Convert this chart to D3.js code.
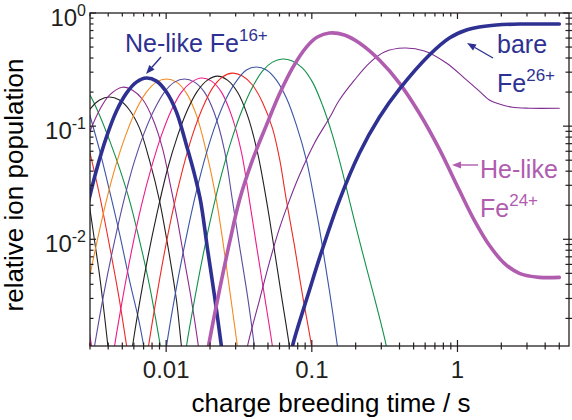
<!DOCTYPE html>
<html>
<head>
<meta charset="utf-8">
<script src="https://cdn.jsdelivr.net/npm/d3@7"></script>
<style>
  body { margin: 0; background: #fff; }
  svg text { font-family: "Liberation Sans", Arial, sans-serif; }
</style>
</head>
<body>
<div id="chart"></div>
<script>
// Fe charge state populations vs breeding time [t (s), relative population]
const fe09 = [[0.00275,0.0028],[0.00297,0.0015],[0.00322,0.0008]];
const fe10 = [[0.00275,0.0368],[0.00297,0.0200],[0.00322,0.0098],[0.00349,0.0048],[0.00377,0.00213],[0.00408,0.00085]];
const fe11 = [[0.00275,0.0922],[0.00297,0.0613],[0.00349,0.0245],[0.00408,0.00885],[0.00478,0.00289],[0.0056,0.00077]];
const fe12 = [[0.00275,0.19],[0.00297,0.130],[0.00349,0.0613],[0.00408,0.0271],[0.00478,0.0113],[0.0056,0.00434],[0.00656,0.0018],[0.0071,0.00104]];
const fe13 = [[0.00275,0.217],[0.00297,0.192],[0.00349,0.125],[0.00408,0.0752],[0.00478,0.0425],[0.0056,0.0221],[0.00656,0.0098],[0.00768,0.00392],[0.00914,0.00113],[0.00973,0.00069]];
const fe14 = [[0.00275,0.113],[0.00297,0.139],[0.00349,0.170],[0.00408,0.181],[0.00478,0.170],[0.0056,0.139],[0.00656,0.096],[0.00768,0.0500],[0.00899,0.0221],[0.01053,0.00722],[0.01177,0.00289],[0.01274,0.00113],[0.01335,0.00069]];
const fe15 = [[0.00275,0.0639],[0.00297,0.0867],[0.00349,0.139],[0.00408,0.188],[0.00501,0.221],[0.00588,0.208],[0.00688,0.173],[0.00805,0.118],[0.00943,0.0639],[0.0107,0.0300],[0.01196,0.0147],[0.01335,0.00652],[0.01492,0.00289],[0.01666,0.00113],[0.01747,0.00069]];
const fe16 = [[0.00275,0.0147],[0.00297,0.0231],[0.00332,0.0408],[0.00389,0.0799],[0.00456,0.136],[0.00534,0.196],[0.00625,0.245],[0.00732,0.266],[0.00858,0.250],[0.01005,0.200],[0.01177,0.133],[0.01378,0.0679],[0.01539,0.0408],[0.0172,0.0221],[0.0192,0.0083],[0.02145,0.00319],[0.02396,0.00113],[0.02512,0.00069]];
const fe17 = [[0.00275,0.00261],[0.00297,0.00452],[0.00332,0.00903],[0.00389,0.0221],[0.00456,0.0471],[0.00534,0.0867],[0.00625,0.141],[0.00732,0.200],[0.00858,0.245],[0.01005,0.261],[0.01177,0.245],[0.01378,0.196],[0.01614,0.125],[0.0189,0.0589],[0.02214,0.0221],[0.02473,0.00885],[0.02762,0.00319],[0.03085,0.00113],[0.03236,0.00069]];
const fe18 = [[0.00307,0.00077],[0.00322,0.00113],[0.00377,0.00354],[0.00442,0.0096],[0.00517,0.0231],[0.00606,0.0490],[0.0071,0.0885],[0.00831,0.141],[0.00973,0.200],[0.0114,0.245],[0.01335,0.261],[0.01564,0.245],[0.01831,0.200],[0.02145,0.130],[0.02512,0.0613],[0.02851,0.0221],[0.03184,0.00885],[0.03612,0.00319],[0.04036,0.00113],[0.04232,0.00069]];
const fe19 = [[0.00421,0.00069],[0.00442,0.00113],[0.00493,0.00261],[0.00578,0.00783],[0.00677,0.0200],[0.00793,0.0434],[0.00929,0.0833],[0.01088,0.139],[0.01274,0.200],[0.01492,0.245],[0.01747,0.266],[0.02047,0.250],[0.02396,0.200],[0.02806,0.125],[0.03287,0.0589],[0.03729,0.0221],[0.04166,0.00885],[0.04727,0.00319],[0.05365,0.00113],[0.05625,0.00069]];
const fe20 = [[0.0056,0.00077],[0.00587,0.00113],[0.00635,0.00213],[0.00744,0.00665],[0.00872,0.0177],[0.01021,0.0416],[0.01196,0.0816],[0.014,0.139],[0.0164,0.204],[0.0192,0.255],[0.02249,0.277],[0.02634,0.255],[0.03085,0.200],[0.03612,0.125],[0.04232,0.0589],[0.04881,0.0221],[0.05537,0.00799],[0.06182,0.00319],[0.07019,0.00113],[0.07358,0.00069]];
const fe21 = [[0.00721,0.00077],[0.00756,0.00113],[0.00805,0.00188],[0.00943,0.00613],[0.01105,0.0173],[0.01294,0.0408],[0.01515,0.0833],[0.01774,0.144],[0.02079,0.217],[0.02434,0.272],[0.02851,0.294],[0.03339,0.277],[0.03911,0.231],[0.04581,0.163],[0.05365,0.096],[0.05993,0.0521],[0.06692,0.0221],[0.07596,0.00885],[0.08638,0.00319],[0.09959,0.00113],[0.1042,0.00069]];
const fe22 = [[0.00958,0.00069],[0.01005,0.00113],[0.01177,0.00376],[0.01378,0.01063],[0.01614,0.0266],[0.0189,0.0577],[0.02214,0.1085],[0.02593,0.177],[0.03036,0.250],[0.03556,0.313],[0.04166,0.333],[0.04881,0.313],[0.05715,0.255],[0.06692,0.177],[0.07838,0.102],[0.09182,0.0500],[0.1042,0.0221],[0.1164,0.0098],[0.132,0.00354],[0.15,0.00113],[0.1571,0.00069]];
const fe23 = [[0.01314,0.00069],[0.01378,0.00113],[0.01515,0.00231],[0.01774,0.00679],[0.02079,0.0177],[0.02434,0.040],[0.02851,0.0799],[0.03339,0.141],[0.03911,0.221],[0.04581,0.307],[0.05365,0.368],[0.06283,0.392],[0.07358,0.376],[0.08638,0.326],[0.1011,0.245],[0.1184,0.153],[0.1386,0.0833],[0.1624,0.0392],[0.1811,0.0221],[0.2121,0.0098],[0.2369,0.00565],[0.2775,0.00261],[0.3251,0.00113],[0.3463,0.00069]];
const fe24 = [[0.01831,0.00069],[0.01951,0.00113],[0.02321,0.00354],[0.02718,0.00923],[0.03184,0.0221],[0.03911,0.0500],[0.04881,0.102],[0.05993,0.192],[0.07358,0.326],[0.09182,0.500],[0.1092,0.613],[0.132,0.665],[0.1674,0.639],[0.2121,0.543],[0.291,0.384],[0.3992,0.240],[0.5476,0.130],[0.751,0.0626],[1.030,0.0271],[1.306,0.0147],[1.655,0.00885],[2.098,0.00613],[2.659,0.0050],[3.646,0.00461],[5.002,0.00461]];
const fe25 = [[0.03393,0.00069],[0.03612,0.00113],[0.04368,0.00289],[0.05116,0.00626],[0.05993,0.0125],[0.07019,0.0221],[0.08221,0.0368],[0.1042,0.0707],[0.132,0.118],[0.1546,0.170],[0.196,0.255],[0.2484,0.361],[0.3149,0.452],[0.432,0.490],[0.5926,0.461],[0.8389,0.361],[1.115,0.266],[1.413,0.204],[1.655,0.170],[1.938,0.157],[2.38,0.147],[3.113,0.144],[5.002,0.144]];
const fe26 = [[0.07019,0.00077],[0.07358,0.00113],[0.09629,0.00354],[0.1127,0.00679],[0.1546,0.0221],[0.2121,0.0577],[0.291,0.120],[0.3992,0.212],[0.6412,0.425],[0.8795,0.601],[1.153,0.707],[1.413,0.752],[1.849,0.783],[2.659,0.799],[3.948,0.80],[5.002,0.80]];

const xMajor = [0.01, 0.1, 1];
const xMajorLabels = ['0.01', '0.1', '1'];
const yMajor = [1, 0.1, 0.01];
const yMajorExp = ['0', '-1', '-2'];

const NAVY = '#2e3192', ORCHID = '#b05caf';

// thin curves first, the highlighted ones on top
const series = [
  { d: fe09, c: '#ec1c8c', w: 1.1 },
  { d: fe10, c: '#231f20', w: 1.1 },
  { d: fe11, c: '#ee2a24', w: 1.1 },
  { d: fe12, c: '#3a55a5', w: 1.1 },
  { d: fe13, c: '#12924a', w: 1.1 },
  { d: fe14, c: '#231f20', w: 1.1 },
  { d: fe15, c: '#8e2c8f', w: 1.1 },
  { d: fe17, c: '#f6891f', w: 1.1 },
  { d: fe18, c: '#5d4a9e', w: 1.1 },
  { d: fe19, c: '#ec1c8c', w: 1.1 },
  { d: fe20, c: '#231f20', w: 1.1 },
  { d: fe21, c: '#ee2a24', w: 1.1 },
  { d: fe22, c: '#3a55a5', w: 1.1 },
  { d: fe23, c: '#12924a', w: 1.1 },
  { d: fe25, c: '#7f2c91', w: 1.1 },
  { d: fe16, c: NAVY, w: 3.6 },
  { d: fe24, c: ORCHID, w: 3.6 },
  { d: fe26, c: NAVY, w: 3.6 }
];

const W = 572, H = 420;
const m = { top: 13, right: 3, bottom: 74, left: 90 };
const svg = d3.select('#chart').append('svg').attr('width', W).attr('height', H);

const x = d3.scaleLog().domain([0.003, 5.83]).range([m.left, W - m.right]);
const y = d3.scaleLog().domain([0.00114, 1]).range([H - m.bottom, m.top]);

svg.append('clipPath').attr('id', 'plot')
  .append('rect').attr('x', m.left).attr('y', m.top)
  .attr('width', W - m.left - m.right).attr('height', H - m.top - m.bottom);

const line = d3.line().x(d => x(d[0])).y(d => y(d[1])).curve(d3.curveCatmullRom.alpha(0.5));
const g = svg.append('g').attr('clip-path', 'url(#plot)');
series.forEach(s => {
  g.append('path').attr('d', line(s.d))
    .attr('fill', 'none').attr('stroke', s.c).attr('stroke-width', s.w)
    .attr('stroke-linejoin', 'round').attr('stroke-linecap', 'round');
});

// frame + ticks
const AX = '#231f20';
const x0 = m.left, x1 = W - m.right, y0 = H - m.bottom, y1 = m.top;
svg.append('rect').attr('x', x0).attr('y', y1).attr('width', x1 - x0).attr('height', y0 - y1)
  .attr('fill', 'none').attr('stroke', AX).attr('stroke-width', 1.3);

const isMajor = v => Math.abs(Math.log10(v) - Math.round(Math.log10(v))) < 1e-6;
x.ticks().forEach(v => {
  const px = x(v), L = isMajor(v) ? 6 : 3.5;
  svg.append('line').attr('x1', px).attr('x2', px).attr('y1', y0 - L).attr('y2', y0 + L)
    .attr('stroke', AX).attr('stroke-width', 1.2);
  svg.append('line').attr('x1', px).attr('x2', px).attr('y1', y1).attr('y2', y1 + L)
    .attr('stroke', AX).attr('stroke-width', 1.2);
});
y.ticks().forEach(v => {
  const py = y(v), L = isMajor(v) ? 6 : 3.5;
  svg.append('line').attr('x1', x0).attr('x2', x0 + L).attr('y1', py).attr('y2', py)
    .attr('stroke', AX).attr('stroke-width', 1.2);
  svg.append('line').attr('x1', x1 - L).attr('x2', x1 + L).attr('y1', py).attr('y2', py)
    .attr('stroke', AX).attr('stroke-width', 1.2);
});

// tick labels
xMajor.forEach((v, i) => {
  svg.append('text').attr('x', x(v)).attr('y', y0 + 32).attr('text-anchor', 'middle')
    .attr('font-size', 24).attr('fill', AX).text(xMajorLabels[i]);
});
yMajor.forEach((v, i) => {
  const t = svg.append('text').attr('x', 86).attr('y', y(v) + 13).attr('text-anchor', 'end')
    .attr('font-size', 24).attr('fill', AX);
  t.append('tspan').text('10');
  t.append('tspan').attr('dy', -10).attr('font-size', 16).text(yMajorExp[i]);
});

// axis titles
svg.append('text').attr('x', 331).attr('y', 412).attr('text-anchor', 'middle')
  .attr('font-size', 26).attr('fill', '#000').text('charge breeding time / s');
svg.append('text').attr('transform', 'translate(23,185) rotate(-90)').attr('text-anchor', 'middle')
  .attr('font-size', 26).attr('fill', '#000').text('relative ion population');

// annotations
function arrow(xa, ya, xb, yb, col) {
  const a = Math.atan2(yb - ya, xb - xa), L = 9, hw = 3.5;
  const bx = xb - L * Math.cos(a), by = yb - L * Math.sin(a);
  svg.append('line').attr('x1', xa).attr('y1', ya).attr('x2', bx).attr('y2', by)
    .attr('stroke', col).attr('stroke-width', 1.4);
  svg.append('path')
    .attr('d', `M${xb},${yb} L${bx - hw * Math.sin(a)},${by + hw * Math.cos(a)} L${bx + hw * Math.sin(a)},${by - hw * Math.cos(a)} Z`)
    .attr('fill', col);
}
function label(xp, yp, main, sup, col) {
  const t = svg.append('text').attr('x', xp).attr('y', yp).attr('font-size', 25).attr('fill', col);
  t.append('tspan').text(main);
  if (sup) t.append('tspan').attr('dy', -11).attr('font-size', 17).text(sup);
}
label(125, 52, 'Ne-like Fe', '16+', NAVY);
arrow(161, 57, 146, 74, NAVY);
label(497, 53, 'bare', null, NAVY);
label(497, 92, 'Fe', '26+', NAVY);
arrow(493, 58, 467, 43, NAVY);
label(480, 178, 'He-like', null, ORCHID);
label(480, 217, 'Fe', '24+', ORCHID);
arrow(478, 165, 452, 165, ORCHID);
</script>
</body>
</html>
